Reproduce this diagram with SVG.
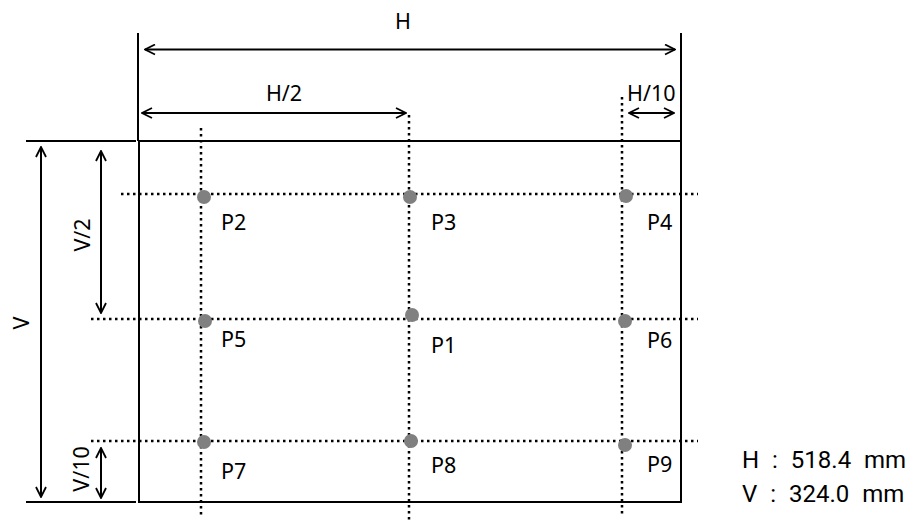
<svg xmlns="http://www.w3.org/2000/svg" width="915" height="526" viewBox="0 0 915 526">
<defs>
<marker id="arr" viewBox="0 0 12 12" refX="11" refY="6" markerWidth="12" markerHeight="12" markerUnits="userSpaceOnUse" orient="auto-start-reverse">
<path d="M1,1 L11,6 L1,11" fill="none" stroke="#000" stroke-width="1.8"/>
</marker>
<style>
.solid{stroke:#000;stroke-width:2;fill:none}
.dim{stroke:#000;stroke-width:2;fill:none;marker-start:url(#arr);marker-end:url(#arr)}
.dot{stroke:#000;stroke-width:2.5;stroke-dasharray:2.5 3.5;fill:none}
.pt{fill:#808080}
text{font-family:"Noto Sans","Open Sans","DejaVu Sans",sans-serif;font-size:21.5px;fill:#000}
text.dims{font-family:Roboto,"Liberation Sans",sans-serif;font-size:24px;word-spacing:7px}
</style>
</defs>
<rect x="139" y="141" width="542" height="361" class="solid" stroke-width="2.5"/>
<g id="connectors">
<line x1="138" y1="33" x2="138" y2="141" class="solid"/>
<line x1="681" y1="33" x2="681" y2="141" class="solid"/>
<line x1="26" y1="141" x2="136" y2="141" class="solid"/>
<line x1="26" y1="502" x2="136" y2="502" class="solid"/>
<line x1="145" y1="49.5" x2="675" y2="49.5" class="dim"/>
<line x1="142" y1="113" x2="406" y2="113" class="dim"/>
<line x1="629" y1="113" x2="674" y2="113" class="dim"/>
<line x1="41" y1="147" x2="41" y2="497" class="dim"/>
<line x1="101" y1="151" x2="101" y2="313" class="dim"/>
<line x1="101" y1="448" x2="101" y2="498" class="dim"/>
<line x1="201" y1="128" x2="201" y2="517" class="dot"/>
<line x1="409" y1="115" x2="409" y2="522" class="dot"/>
<line x1="622" y1="97" x2="622" y2="516" class="dot"/>
<line x1="121" y1="194" x2="698" y2="194" class="dot"/>
<line x1="91" y1="319" x2="698" y2="319" class="dot"/>
<line x1="91" y1="441" x2="698" y2="441" class="dot"/>
</g>
<g id="labels">
<text x="403" y="29" text-anchor="middle">H</text>
<text x="284" y="101" text-anchor="middle">H/2</text>
<text x="627" y="101">H/10</text>
<text transform="translate(29,323) rotate(-90)" text-anchor="middle">V</text>
<text transform="translate(90,235) rotate(-90)" text-anchor="middle">V/2</text>
<text transform="translate(89,469) rotate(-90)" text-anchor="middle">V/10</text>
<text class="dims" x="742" y="468">H : 518.4 mm</text>
<text class="dims" x="742" y="502">V : 324.0 mm</text>
</g>
<g id="P1"><circle cx="412" cy="315" r="7" class="pt"/><text x="431" y="353">P1</text></g>
<g id="P2"><circle cx="204" cy="197" r="7" class="pt"/><text x="221" y="230">P2</text></g>
<g id="P3"><circle cx="410" cy="197" r="7" class="pt"/><text x="431" y="230">P3</text></g>
<g id="P4"><circle cx="626" cy="196" r="7" class="pt"/><text x="647" y="230">P4</text></g>
<g id="P5"><circle cx="205" cy="321" r="7" class="pt"/><text x="221" y="347">P5</text></g>
<g id="P6"><circle cx="625" cy="321" r="7" class="pt"/><text x="647" y="348">P6</text></g>
<g id="P7"><circle cx="204" cy="442" r="7" class="pt"/><text x="221" y="479">P7</text></g>
<g id="P8"><circle cx="411" cy="441" r="7" class="pt"/><text x="431" y="473">P8</text></g>
<g id="P9"><circle cx="625" cy="445" r="7" class="pt"/><text x="647" y="472">P9</text></g>
</svg>
